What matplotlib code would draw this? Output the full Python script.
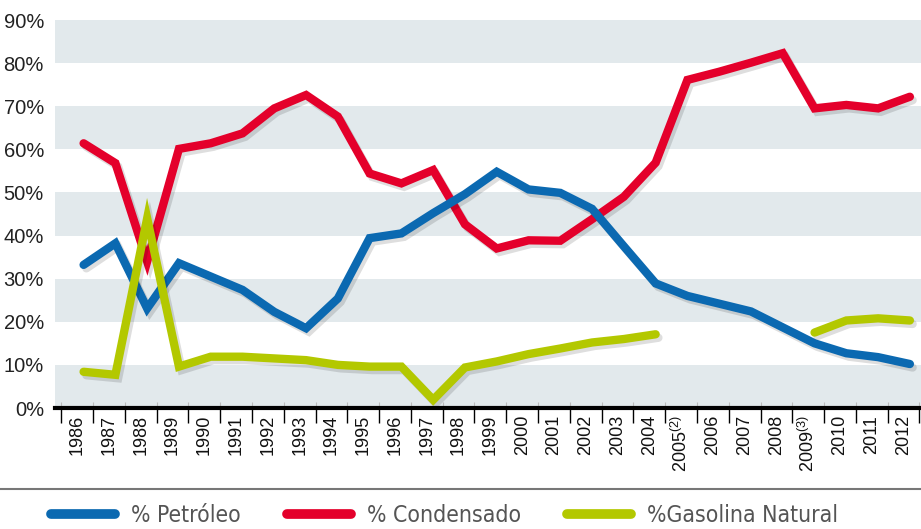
import matplotlib.pyplot as plt
import matplotlib.patheffects as pe
from matplotlib.lines import Line2D
from matplotlib import font_manager
import numpy as np

years = ['1986', '1987', '1988', '1989', '1990', '1991', '1992', '1993', '1994',
         '1995', '1996', '1997', '1998', '1999', '2000', '2001', '2002', '2003',
         '2004', '2005$^{(2)}$', '2006', '2007', '2008', '2009$^{(3)}$', '2010',
         '2011', '2012']

petroleo = [33.2, 38.2, 23.1, 33.6, 30.5, 27.4, 22.3, 18.5, 25.4, 39.4, 40.5,
            45.2, 49.6, 54.8, 50.7, 49.9, 46.2, 37.5, 28.9, 26.0, 24.2, 22.4,
            18.7, 15.0, 12.7, 11.8, 10.2]
condensado = [61.4, 56.8, 34.0, 60.1, 61.4, 63.7, 69.5, 72.6, 67.6, 54.4, 52.1,
              55.2, 42.6, 37.0, 38.9, 38.8, 43.8, 49.0, 56.9, 76.1, 78.0, 80.1,
              82.3, 69.5, 70.3, 69.5, 72.2]
gasolina = [8.4, 7.7, 44.0, 9.6, 11.9, 11.9, 11.5, 11.1, 10.0, 9.6, 9.6,
            1.9, 9.4, 10.8, 12.5, 13.8, 15.2, 16.0, 17.1, np.nan, np.nan, np.nan,
            np.nan, 17.5, 20.3, 20.8, 20.3]

blue = '#0b69b1'
red = '#e4002b'
green = '#b3c800'
band = '#e2e9ec'

plt.rcParams['font.family'] = ['Liberation Sans', 'DejaVu Sans']
plt.rcParams['mathtext.fontset'] = 'custom'
plt.rcParams['mathtext.rm'] = 'Liberation Sans'
plt.rcParams['mathtext.default'] = 'regular'

fig = plt.figure(figsize=(9.21, 5.29), dpi=100)
ax = fig.add_axes([55 / 921, 1 - 408 / 529, 1 - 55 / 921, 388 / 529])

x = np.arange(len(years)) + 0.2

# alternating bands
for lo in range(0, 90, 20):
    ax.axhspan(lo, lo + 10, color=band, lw=0, zorder=0)

shadow = [pe.SimpleLineShadow(offset=(2, -2.5), shadow_color='#000000', alpha=0.13),
          pe.Normal()]
kw = dict(lw=6, solid_capstyle='round', solid_joinstyle='miter', path_effects=shadow)
ax.plot(x, condensado, color=red, zorder=3, **kw)
ax.plot(x, petroleo, color=blue, zorder=4, **kw)
ax.plot(x, gasolina, color=green, zorder=5, **kw)

ax.set_xlim(-0.7, len(years) - 0.45)
ax.set_ylim(0, 90)

yt = np.arange(0, 100, 10)
ax.set_yticks(yt)
ax.set_yticklabels(['{}%'.format(v) for v in yt], fontsize=14.5, color='#222222')
ax.tick_params(axis='y', length=0, pad=8)

bounds = np.arange(len(years) + 1) - 0.5
ax.set_xticks(bounds)
ax.set_xticklabels([])
ax.set_xticks(np.arange(len(years)), minor=True)
ax.set_xticklabels(years, minor=True, rotation=90, fontsize=13, color='#111111')
ax.tick_params(axis='x', which='major', direction='out', length=11, width=1, color='black')
ax.tick_params(axis='x', which='minor', length=0, pad=5)

sec = ax.secondary_xaxis('bottom')
sec.set_xticks(bounds)
sec.set_xticklabels([])
sec.tick_params(direction='in', length=4, width=0.8, color='#bbbbbb')
sec.spines['bottom'].set_visible(False)

for s in ['top', 'right', 'left']:
    ax.spines[s].set_visible(False)
ax.spines['bottom'].set_linewidth(3)
ax.spines['bottom'].set_zorder(6)

# separator line above legend
fig.add_artist(Line2D([0, 1], [1 - 489 / 529, 1 - 489 / 529], transform=fig.transFigure,
                      color='#777777', lw=1.5))

legend_font = font_manager.FontProperties(family='DejaVu Sans', stretch='condensed', size=16.5)
handles = [Line2D([], [], color=c, lw=7, solid_capstyle='round') for c in (blue, red, green)]
leg = fig.legend(handles, ['% Petróleo', '% Condensado', '%Gasolina Natural'],
                 loc='center', bbox_to_anchor=(0.483, 1 - 516 / 529), ncol=3, frameon=False,
                 handlelength=2.8, handletextpad=0.7, columnspacing=2.0,
                 prop=legend_font)
for t in leg.get_texts():
    t.set_color('#555555')

fig.savefig('out.png', dpi=100)
